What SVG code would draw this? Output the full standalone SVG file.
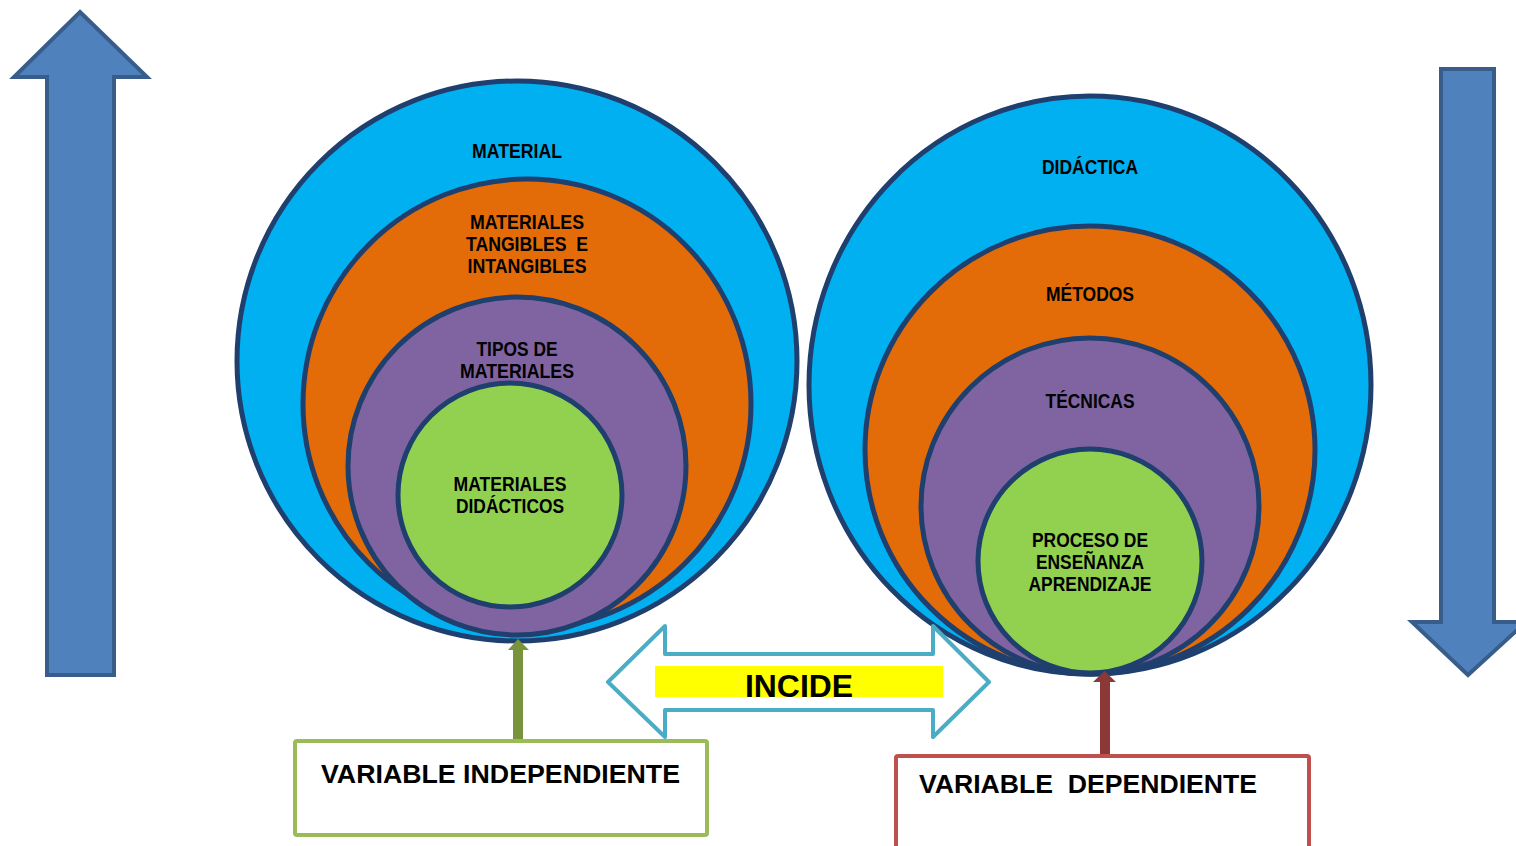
<svg xmlns="http://www.w3.org/2000/svg" width="1516" height="846" viewBox="0 0 1516 846">
<style>
.c{stroke:#1f3f6e;stroke-width:5}
.b{fill:#00b0f0}.o{fill:#e36c09}.p{fill:#8064a2}.g{fill:#92d050}
.t{font-family:"Liberation Sans",Arial,sans-serif;font-weight:bold;font-size:20px;fill:#000;text-anchor:middle}
.bt{font-family:"Liberation Sans",Arial,sans-serif;font-weight:bold;fill:#000}
.big{stroke:#385d8a;stroke-width:4;fill:#4f81bd}
</style>
<rect width="1516" height="846" fill="#fff"/>
<g id="arrow-up"><path class="big" d="M80,12 L147,77 L114,77 L114,675 L47,675 L47,77 L14,77 Z"/></g>
<g id="arrow-down"><path class="big" d="M1441,69 L1494,69 L1494,622 L1526,622 L1468,675 L1412,622 L1441,622 Z"/></g>
<g id="left-target">
<g id="material"><ellipse class="c b" cx="517" cy="361" rx="280" ry="280"/><text class="t" x="517" y="158" textLength="90" lengthAdjust="spacingAndGlyphs">MATERIAL</text></g>
<g id="tangibles"><ellipse class="c o" cx="527" cy="404" rx="224" ry="225"/>
<text class="t" x="527" y="229" textLength="114" lengthAdjust="spacingAndGlyphs">MATERIALES</text>
<text class="t" x="527" y="251" textLength="122" lengthAdjust="spacingAndGlyphs" xml:space="preserve">TANGIBLES  E</text>
<text class="t" x="527" y="273" textLength="119" lengthAdjust="spacingAndGlyphs">INTANGIBLES</text></g>
<g id="tipos"><ellipse class="c p" cx="517" cy="466" rx="169" ry="169"/>
<text class="t" x="517" y="356" textLength="81" lengthAdjust="spacingAndGlyphs">TIPOS DE</text>
<text class="t" x="517" y="378" textLength="114" lengthAdjust="spacingAndGlyphs">MATERIALES</text></g>
<g id="didacticos"><ellipse class="c g" cx="510" cy="495" rx="112" ry="112"/>
<text class="t" x="510" y="491" textLength="113" lengthAdjust="spacingAndGlyphs">MATERIALES</text>
<text class="t" x="510" y="513" textLength="108" lengthAdjust="spacingAndGlyphs">DIDÁCTICOS</text></g>
</g>
<g id="right-target">
<g id="didactica"><ellipse class="c b" cx="1090" cy="385" rx="281" ry="289"/><text class="t" x="1090" y="174" textLength="96" lengthAdjust="spacingAndGlyphs">DIDÁCTICA</text></g>
<g id="metodos"><ellipse class="c o" cx="1090" cy="450" rx="225" ry="224"/><text class="t" x="1090" y="301" textLength="88" lengthAdjust="spacingAndGlyphs">MÉTODOS</text></g>
<g id="tecnicas"><ellipse class="c p" cx="1090" cy="506" rx="169" ry="168"/><text class="t" x="1090" y="408" textLength="89" lengthAdjust="spacingAndGlyphs">TÉCNICAS</text></g>
<g id="proceso"><ellipse class="c g" cx="1090" cy="561" rx="112" ry="112"/>
<text class="t" x="1090" y="547" textLength="116" lengthAdjust="spacingAndGlyphs">PROCESO DE</text>
<text class="t" x="1090" y="569" textLength="108" lengthAdjust="spacingAndGlyphs">ENSEÑANZA</text>
<text class="t" x="1090" y="591" textLength="123" lengthAdjust="spacingAndGlyphs">APRENDIZAJE</text></g>
</g>
<g id="incide">
<path d="M608,682 L665,626 L665,654 L933,654 L933,626 L989,682 L933,737 L933,710 L665,710 L665,737 Z" fill="#fff" stroke="#4bacc6" stroke-width="4" stroke-linejoin="round"/>
<rect x="655" y="666" width="288" height="31" fill="#ffff00"/>
<text class="bt" x="799" y="697" font-size="32" text-anchor="middle" textLength="108" lengthAdjust="spacingAndGlyphs">INCIDE</text>
</g>
<g id="connectors">
<path d="M513,741 L513,650 L508,650 L518,639 L529,650 L523,650 L523,741 Z" fill="#77933c"/>
<path d="M1100,756 L1100,682 L1093,682 L1104.5,671 L1116,682 L1110,682 L1110,756 Z" fill="#8c3836"/>
</g>
<g id="var-independiente">
<rect x="295" y="741" width="412" height="94" fill="#fff" stroke="#9bbb59" stroke-width="4" rx="2"/>
<text class="bt" x="321" y="783" font-size="25" textLength="359" lengthAdjust="spacingAndGlyphs">VARIABLE INDEPENDIENTE</text>
</g>
<g id="var-dependiente">
<rect x="896" y="756" width="413" height="100" fill="#fff" stroke="#c0504d" stroke-width="4" rx="2"/>
<text class="bt" x="919" y="793" font-size="25" textLength="338" lengthAdjust="spacingAndGlyphs" xml:space="preserve">VARIABLE  DEPENDIENTE</text>
</g>
</svg>
